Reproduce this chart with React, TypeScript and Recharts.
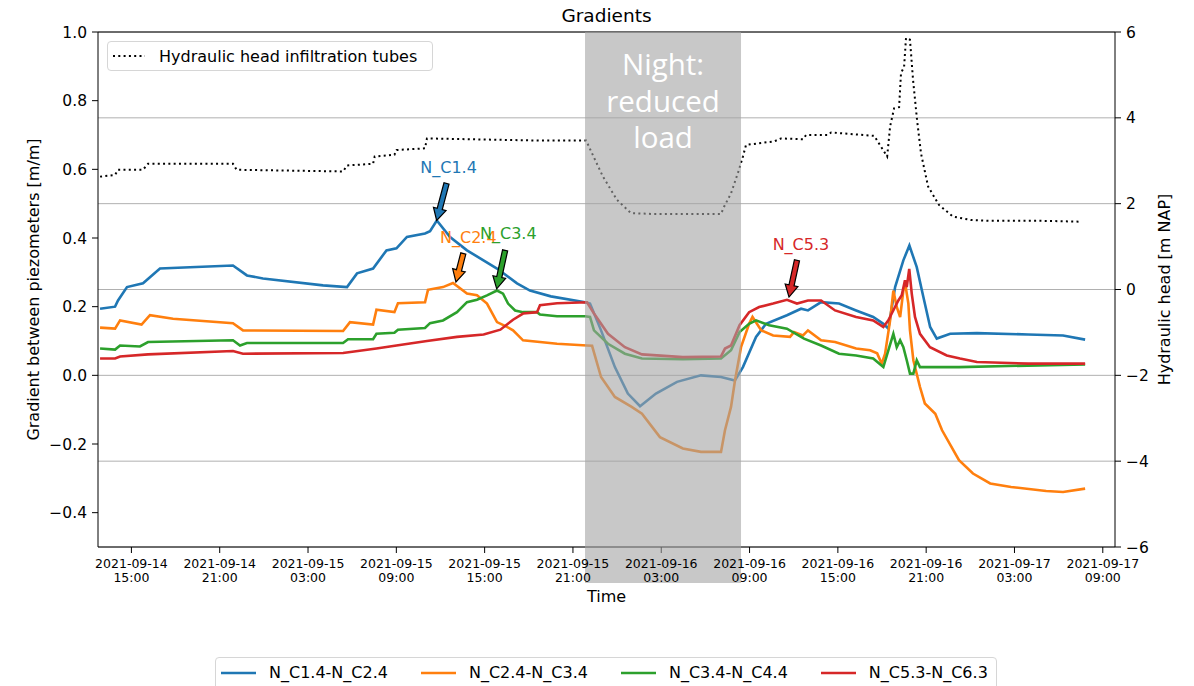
import React from 'react';
import {
  LineChart,
  Line,
  XAxis,
  YAxis,
  CartesianGrid,
  ReferenceLine,
  ReferenceDot,
  Legend,
} from 'recharts';

const FONT = '"DejaVu Sans", "Liberation Sans", sans-serif';

// Time is in hours since 2021-09-14 00:00.
const X_DOMAIN = [12.73, 81.83];
const X_TICKS = [15, 21, 27, 33, 39, 45, 51, 57, 63, 69, 75, 81];
const X_TICK_LABELS = [
  ['2021-09-14', '15:00'],
  ['2021-09-14', '21:00'],
  ['2021-09-15', '03:00'],
  ['2021-09-15', '09:00'],
  ['2021-09-15', '15:00'],
  ['2021-09-15', '21:00'],
  ['2021-09-16', '03:00'],
  ['2021-09-16', '09:00'],
  ['2021-09-16', '15:00'],
  ['2021-09-16', '21:00'],
  ['2021-09-17', '03:00'],
  ['2021-09-17', '09:00'],
];
const LEFT_DOMAIN = [-0.5, 1.0];
const LEFT_TICKS = [-0.4, -0.2, 0, 0.2, 0.4, 0.6, 0.8, 1.0];
const RIGHT_DOMAIN = [-6, 6];
const RIGHT_TICKS = [-6, -4, -2, 0, 2, 4, 6];

const SERIES_NAMES = ['N_C1.4-N_C2.4', 'N_C2.4-N_C3.4', 'N_C3.4-N_C4.4', 'N_C5.3-N_C6.3'];
const SERIES_COLORS = ['#1f77b4', '#ff7f0e', '#2ca02c', '#d62728'];
const HEAD_NAME = 'Hydraulic head infiltration tubes';

// [hour, gradient m/m]
const C14_C24: [number, number][] = [
  [12.87, 0.194], [13.89, 0.2], [14.09, 0.218], [14.7, 0.257], [15.79, 0.268], [16.94, 0.311],
  [18.98, 0.315], [21.9, 0.32], [22.85, 0.291], [23.94, 0.282], [28.02, 0.262], [29.65, 0.257],
  [30.33, 0.297], [31.42, 0.311], [32.33, 0.364], [33.01, 0.37], [33.72, 0.403], [34.95, 0.413],
  [35.29, 0.42], [35.75, 0.451], [36.65, 0.403], [37.8, 0.364], [39.84, 0.311], [41.2, 0.268],
  [42.08, 0.247], [43.5, 0.23], [45.82, 0.213], [46.16, 0.209], [46.91, 0.131], [47.85, 0.024],
  [48.73, -0.053], [49.56, -0.09], [50.64, -0.053], [52.07, -0.019], [53.7, 0], [55.06, -0.005],
  [56.0, -0.015], [56.55, 0.024], [57.44, 0.112], [58.12, 0.15], [59.54, 0.175], [60.5, 0.194],
  [60.97, 0.189], [61.86, 0.213], [63.08, 0.209], [64.24, 0.189], [65.4, 0.17], [66.09, 0.15],
  [66.43, 0.136], [66.89, 0.257], [67.45, 0.335], [67.86, 0.378], [68.36, 0.315], [68.81, 0.228],
  [69.27, 0.141], [69.72, 0.107], [70.63, 0.121], [72.45, 0.123], [75.93, 0.119], [78.3, 0.116],
  [79.8, 0.104],
];

const C24_C34: [number, number][] = [
  [12.87, 0.139], [13.89, 0.136], [14.23, 0.16], [15.69, 0.148], [16.26, 0.175], [17.83, 0.165],
  [21.9, 0.152], [22.58, 0.131], [29.38, 0.129], [29.85, 0.155], [31.42, 0.148], [31.65, 0.191],
  [32.87, 0.184], [33.11, 0.21], [34.95, 0.213], [35.15, 0.249], [36.17, 0.257], [36.85, 0.269],
  [37.8, 0.238], [38.48, 0.233], [39.16, 0.209], [39.84, 0.155], [40.52, 0.141], [40.93, 0.131],
  [41.61, 0.102], [43.92, 0.092], [45.96, 0.087], [46.3, 0.086], [46.91, -0.005], [47.85, -0.063],
  [48.99, -0.092], [49.69, -0.112], [50.91, -0.18], [52.47, -0.213], [53.7, -0.223], [55.06, -0.223],
  [55.33, -0.16], [55.74, -0.092], [56.01, -0.015], [56.42, 0.082], [56.97, 0.15], [57.2, 0.17],
  [57.8, 0.131], [58.6, 0.116], [59.75, 0.112], [60.02, 0.126], [60.63, 0.116], [60.97, 0.131],
  [61.86, 0.102], [62.81, 0.097], [64.24, 0.078], [65.19, 0.073], [65.67, 0.064], [65.98, 0.034],
  [66.21, 0.063], [66.55, 0.16], [66.77, 0.247], [67.0, 0.199], [67.23, 0.17], [67.45, 0.247],
  [67.6, 0.26], [67.79, 0.209], [67.9, 0.131], [68.13, 0.044], [68.58, -0.034], [68.91, -0.082],
  [69.62, -0.112], [70.08, -0.16], [71.23, -0.247], [72.18, -0.286], [73.35, -0.315], [74.77, -0.325],
  [77.15, -0.337], [78.3, -0.34], [79.8, -0.33],
];

const C34_C44: [number, number][] = [
  [12.87, 0.078], [13.89, 0.075], [14.23, 0.087], [15.58, 0.084], [16.13, 0.097], [21.9, 0.102],
  [22.38, 0.087], [22.85, 0.094], [29.38, 0.094], [29.72, 0.105], [31.42, 0.105], [31.65, 0.121],
  [32.87, 0.124], [33.11, 0.133], [34.95, 0.138], [35.29, 0.152], [36.17, 0.16], [37.12, 0.184],
  [37.8, 0.213], [38.48, 0.22], [39.16, 0.233], [39.84, 0.247], [40.25, 0.238], [40.59, 0.209],
  [41.07, 0.189], [41.61, 0.184], [42.56, 0.184], [42.76, 0.177], [43.92, 0.172], [45.82, 0.172],
  [46.16, 0.17], [46.43, 0.131], [47.38, 0.092], [48.53, 0.063], [49.69, 0.049], [52.47, 0.047],
  [55.06, 0.049], [55.74, 0.073], [56.32, 0.126], [56.97, 0.15], [57.44, 0.16], [58.33, 0.146],
  [59.54, 0.136], [60.7, 0.107], [61.86, 0.087], [63.08, 0.063], [64.24, 0.058], [65.4, 0.049],
  [66.09, 0.024], [66.43, 0.073], [66.77, 0.121], [67.0, 0.082], [67.23, 0.102], [67.45, 0.082],
  [67.68, 0.044], [67.9, 0.005], [68.13, 0.005], [68.36, 0.044], [68.58, 0.024], [69.94, 0.024],
  [71.23, 0.024], [79.8, 0.032],
];

const C53_C63: [number, number][] = [
  [12.87, 0.049], [13.89, 0.049], [14.23, 0.055], [16.13, 0.061], [21.9, 0.071], [22.58, 0.063],
  [29.38, 0.065], [31.65, 0.078], [33.01, 0.087], [35.08, 0.1], [37.12, 0.112], [38.93, 0.119],
  [40.07, 0.133], [40.93, 0.162], [41.61, 0.18], [42.56, 0.184], [42.76, 0.204], [43.92, 0.21],
  [45.96, 0.213], [46.43, 0.18], [47.38, 0.121], [48.53, 0.082], [49.69, 0.061], [52.47, 0.053],
  [55.06, 0.055], [55.33, 0.078], [55.74, 0.087], [56.32, 0.146], [56.97, 0.184], [57.65, 0.199],
  [58.6, 0.209], [59.54, 0.22], [60.22, 0.209], [60.97, 0.218], [61.86, 0.218], [62.81, 0.189],
  [64.24, 0.17], [65.4, 0.16], [66.09, 0.141], [66.43, 0.16], [66.66, 0.18], [67.11, 0.218],
  [67.34, 0.233], [67.56, 0.277], [67.68, 0.257], [67.85, 0.31], [68.02, 0.238], [68.24, 0.17],
  [68.58, 0.121], [69.26, 0.082], [70.4, 0.058], [71.3, 0.049], [72.45, 0.039], [75.93, 0.034],
  [79.8, 0.034],
];

// [hour, hydraulic head m NAP]
const HEAD: [number, number][] = [
  [12.87, 2.63], [13.89, 2.67], [14.09, 2.79], [15.79, 2.79], [16.13, 2.93], [21.9, 2.93],
  [22.15, 2.79], [29.38, 2.75], [29.65, 2.89], [31.42, 2.93], [31.53, 3.1], [32.87, 3.14],
  [33.01, 3.25], [34.95, 3.29], [35.08, 3.52], [42.76, 3.47], [45.9, 3.47], [46.3, 3.17],
  [47.04, 2.63], [47.99, 2.09], [48.94, 1.78], [50.44, 1.76], [52.61, 1.76], [55.06, 1.76],
  [55.27, 1.93], [55.74, 2.24], [56.28, 2.79], [56.55, 3.1], [56.76, 3.37], [58.66, 3.45],
  [59.14, 3.52], [60.63, 3.5], [60.84, 3.6], [62.33, 3.6], [62.54, 3.66], [65.47, 3.58],
  [66.35, 3.1], [66.55, 3.8], [66.82, 4.22], [67.16, 4.25], [67.29, 5.04], [67.5, 5.19],
  [67.63, 5.86], [67.9, 5.82], [68.11, 4.88], [68.38, 3.95], [68.65, 3.17], [69.13, 2.4],
  [69.87, 1.97], [70.82, 1.7], [72.04, 1.62], [73.26, 1.6], [76.88, 1.6], [79.52, 1.58],
];

const SERIES = [C14_C24, C24_C34, C34_C44, C53_C63];

// Night with reduced load, as hours
const NIGHT = [45.82, 56.42];
const NIGHT_LINES = ['Night:', 'reduced', 'load'];

// Annotated peaks: [hour, gradient] for arrow tip, arrow tail and text
const ANNOTATIONS = [
  { label: 'N_C1.4', series: 0, tip: [35.74, 0.451], tail: [36.41, 0.559], text: [36.55, 0.606] },
  { label: 'N_C2.4', series: 1, tip: [37.05, 0.272], tail: [37.55, 0.355], text: [37.89, 0.402] },
  { label: 'N_C3.4', series: 2, tip: [39.82, 0.252], tail: [40.39, 0.364], text: [40.61, 0.413] },
  { label: 'N_C5.3', series: 3, tip: [59.68, 0.228], tail: [60.22, 0.335], text: [60.49, 0.381] },
];

const toRows = (pts: [number, number][]) => pts.map(([h, v]) => ({ h, v }));

// Two corners of the night band: top-left and bottom-right of the plot.
const NIGHT_ROWS = [
  { h: NIGHT[0], v: LEFT_DOMAIN[1] },
  { h: NIGHT[1], v: LEFT_DOMAIN[0] },
];

const minus = (s: string) => s.replace('-', '\u2212');

function XTick(props: any) {
  const { x, y, payload } = props;
  const i = X_TICKS.indexOf(payload.value);
  const [day, time] = X_TICK_LABELS[i] ?? ['', ''];
  return (
    <text x={x} y={y} textAnchor="middle" fontSize={12.5} fontFamily={FONT} fill="#000">
      <tspan x={x} dy={13}>{day}</tspan>
      <tspan x={x} dy={14}>{time}</tspan>
    </text>
  );
}

// Fancy arrow from tail (x1, y1) to tip (x2, y2), coloured face and black edge.
const arrowShape = (color: string) => (p: any) => {
  const { x1, y1, x2, y2 } = p;
  const len = Math.hypot(x2 - x1, y2 - y1) || 1;
  const ux = (x2 - x1) / len;
  const uy = (y2 - y1) / len;
  const nx = -uy;
  const ny = ux;
  const hl = 12;
  const hw = 6.5;
  const sw = 2.6;
  const bx = x2 - ux * hl;
  const by = y2 - uy * hl;
  const pts = [
    [x1 + nx * sw, y1 + ny * sw],
    [bx + nx * sw, by + ny * sw],
    [bx + nx * hw, by + ny * hw],
    [x2, y2],
    [bx - nx * hw, by - ny * hw],
    [bx - nx * sw, by - ny * sw],
    [x1 - nx * sw, y1 - ny * sw],
  ];
  return (
    <polygon
      points={pts.map((q) => q.join(',')).join(' ')}
      fill={color}
      stroke="#000"
      strokeWidth={1.2}
      strokeLinejoin="miter"
    />
  );
};

const labelShape = (text: string, color: string) => (p: any) => (
  <text x={p.cx} y={p.cy} textAnchor="middle" dominantBaseline="central" fontSize={16} fontFamily={FONT} fill={color}>
    {text}
  </text>
);

// Night band drawn over the series (and a little below the axis), with its caption.
const NightDot = (p: any) => {
  const pts = p.points;
  if (p.index !== 0 || !pts || pts.length < 2) return <g key={`night-${p.index}`} />;
  const x0 = pts[0].x;
  const y0 = pts[0].y;
  const w = pts[1].x - x0;
  const h = pts[1].y - y0;
  const cx = x0 + w / 2;
  return (
    <g key="night-0">
      <rect x={x0} y={y0} width={w} height={h + 36} fill="#a3a3a3" fillOpacity={0.6} />
      <text textAnchor="middle" fontSize={29.5} fontFamily='"Open Sans", sans-serif' fill="#fff">
        {NIGHT_LINES.map((t, i) => (
          <tspan key={t} x={cx} y={y0 + 43 + i * 36.7}>
            {t}
          </tspan>
        ))}
      </text>
    </g>
  );
};

const leftTitle = (p: any) => {
  const vb = p.viewBox;
  const x = vb.x + 33;
  const y = vb.y + vb.height / 2;
  return (
    <text x={x} y={y} transform={`rotate(-90 ${x} ${y})`} textAnchor="middle" dominantBaseline="central" fontSize={16} fontFamily={FONT} fill="#000">
      Gradient between piezometers [m/m]
    </text>
  );
};

const rightTitle = (p: any) => {
  const vb = p.viewBox;
  const x = vb.x + 49;
  const y = vb.y + vb.height / 2;
  return (
    <text x={x} y={y} transform={`rotate(-90 ${x} ${y})`} textAnchor="middle" dominantBaseline="central" fontSize={16} fontFamily={FONT} fill="#000">
      Hydraulic head [m NAP]
    </text>
  );
};

const timeTitle = (p: any) => {
  const vb = p.viewBox;
  return (
    <text x={vb.x + vb.width / 2} y={vb.y + 55} textAnchor="middle" fontSize={16} fontFamily={FONT} fill="#000">
      Time
    </text>
  );
};

const chartTitle = (p: any) => {
  const vb = p.viewBox;
  return (
    <text x={vb.x + vb.width / 2} y={vb.y + vb.height - 10} textAnchor="middle" fontSize={18.5} fontFamily={FONT} fill="#000">
      Gradients
    </text>
  );
};

const boxStyle: React.CSSProperties = {
  position: 'absolute',
  boxSizing: 'border-box',
  border: '1px solid #d6d6d6',
  borderRadius: 4,
  background: 'rgba(255,255,255,0.8)',
  display: 'flex',
  alignItems: 'center',
};

function Legends(props: any) {
  const items: any[] = (props.payload ?? []).filter((p: any) => p.type !== 'none');
  const head = items.find((p) => p.value === HEAD_NAME);
  const series = items.filter((p) => p.value !== HEAD_NAME && SERIES_NAMES.includes(p.value));
  return (
    <div style={{ position: 'relative', width: 1194, height: 686, overflow: 'hidden', fontFamily: FONT, fontSize: 16, color: '#000' }}>
      {head && (
        <div style={{ ...boxStyle, left: 107, top: 41, width: 326, height: 30, paddingLeft: 5 }}>
          <svg width={32} height={6}>
            <line x1={0} y1={3} x2={32} y2={3} stroke={head.color} strokeWidth={2} strokeDasharray="2 3.3" />
          </svg>
          <span style={{ marginLeft: 14, whiteSpace: 'nowrap' }}>{head.value}</span>
        </div>
      )}
      <div style={{ ...boxStyle, left: 215, top: 657, width: 782, height: 38, alignItems: 'flex-start' }}>
        <div style={{ display: 'flex', alignItems: 'center', height: 29, paddingLeft: 5 }}>
          {series.map((p) => (
            <div key={p.value} style={{ display: 'flex', alignItems: 'center', marginRight: 33 }}>
              <svg width={35} height={6}>
                <line x1={0} y1={3} x2={35} y2={3} stroke={p.color} strokeWidth={2.4} />
              </svg>
              <span style={{ marginLeft: 13, whiteSpace: 'nowrap' }}>{p.value}</span>
            </div>
          ))}
        </div>
      </div>
    </div>
  );
}

export default function App() {
  return (
    <div style={{ position: 'absolute', left: 0, top: 0, width: 1194, height: 686, overflow: 'hidden', background: '#fff' }}>
      <LineChart width={1194} height={686} margin={{ top: 0, right: 0, bottom: 79, left: 0 }}>
        <CartesianGrid xAxisId="b" yAxisId="right" vertical={false} stroke="#b0b0b0" strokeWidth={1} />
        <XAxis
          xAxisId="b"
          dataKey="h"
          type="number"
          domain={X_DOMAIN}
          ticks={X_TICKS}
          interval={0}
          height={60}
          stroke="#000"
          tickSize={6}
          tickMargin={2}
          tick={XTick}
          label={timeTitle}
        />
        <XAxis
          xAxisId="top"
          dataKey="h"
          type="number"
          orientation="top"
          domain={X_DOMAIN}
          height={32}
          stroke="#000"
          tick={false}
          tickLine={false}
          label={chartTitle}
        />
        <YAxis
          yAxisId="left"
          type="number"
          domain={LEFT_DOMAIN}
          ticks={LEFT_TICKS}
          interval={0}
          width={98}
          stroke="#000"
          tickSize={6}
          tickMargin={5}
          tick={{ fontSize: 15.5, fill: '#000', fontFamily: FONT }}
          tickFormatter={(v: number) => minus(v.toFixed(1))}
          label={leftTitle}
        />
        <YAxis
          yAxisId="right"
          orientation="right"
          type="number"
          domain={RIGHT_DOMAIN}
          ticks={RIGHT_TICKS}
          interval={0}
          width={79}
          stroke="#000"
          tickSize={6}
          tickMargin={5}
          tick={{ fontSize: 15.5, fill: '#000', fontFamily: FONT }}
          tickFormatter={(v: number) => minus(String(v))}
          label={rightTitle}
        />
        <Line
          xAxisId="b"
          yAxisId="right"
          data={toRows(HEAD)}
          dataKey="v"
          name={HEAD_NAME}
          type="linear"
          stroke="#000"
          strokeWidth={2}
          strokeDasharray="2 3.3"
          dot={false}
          activeDot={false}
          isAnimationActive={false}
        />
        {SERIES.map((s, i) => (
          <Line
            key={SERIES_NAMES[i]}
            xAxisId="b"
            yAxisId="left"
            data={toRows(s)}
            dataKey="v"
            name={SERIES_NAMES[i]}
            type="linear"
            stroke={SERIES_COLORS[i]}
            strokeWidth={2.6}
            dot={false}
            activeDot={false}
            isAnimationActive={false}
          />
        ))}
        <Line
          xAxisId="b"
          yAxisId="left"
          data={NIGHT_ROWS}
          dataKey="v"
          name="night"
          legendType="none"
          stroke="none"
          dot={NightDot}
          activeDot={false}
          isAnimationActive={false}
        />
        {ANNOTATIONS.map((a) => (
          <ReferenceLine
            key={`arrow-${a.label}`}
            xAxisId="b"
            yAxisId="left"
            segment={[
              { x: a.tail[0], y: a.tail[1] },
              { x: a.tip[0], y: a.tip[1] },
            ]}
            shape={arrowShape(SERIES_COLORS[a.series])}
          />
        ))}
        {ANNOTATIONS.map((a) => (
          <ReferenceDot
            key={`text-${a.label}`}
            xAxisId="b"
            yAxisId="left"
            x={a.text[0]}
            y={a.text[1]}
            r={0}
            shape={labelShape(a.label, SERIES_COLORS[a.series])}
          />
        ))}
        <Legend
          layout="horizontal"
          verticalAlign="middle"
          align="center"
          content={Legends}
          wrapperStyle={{ left: 0, top: 0, width: 1194, height: 686, pointerEvents: 'none' }}
        />
      </LineChart>
    </div>
  );
}
